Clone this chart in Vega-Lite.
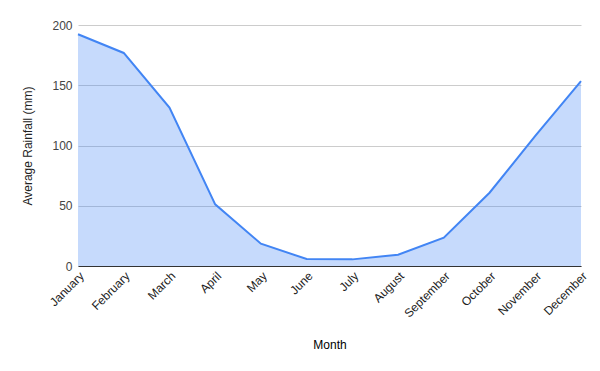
{
  "$schema": "https://vega.github.io/schema/vega-lite/v6.json",
  "width": 503,
  "height": 241,
  "autosize": {"type": "none"},
  "padding": {"left": 78, "top": 25, "right": 19, "bottom": 105},
  "background": "#ffffff",
  "config": {"view": {"stroke": null}, "font": "Liberation Sans"},
  "data": {"values": [
    {"Month": "January", "Rain": 192.3},
    {"Month": "February", "Rain": 176.8},
    {"Month": "March", "Rain": 131.4},
    {"Month": "April", "Rain": 51.2},
    {"Month": "May", "Rain": 18.5},
    {"Month": "June", "Rain": 5.8},
    {"Month": "July", "Rain": 5.5},
    {"Month": "August", "Rain": 9.4},
    {"Month": "September", "Rain": 23.5},
    {"Month": "October", "Rain": 60.8},
    {"Month": "November", "Rain": 108},
    {"Month": "December", "Rain": 153.5}
  ]},
  "mark": {"type": "area", "color": "#4285F4", "fillOpacity": 0.3, "line": {"color": "#4285F4", "strokeWidth": 2}},
  "encoding": {
    "x": {
      "field": "Month", "type": "ordinal", "sort": null,
      "scale": {"type": "point", "padding": 0},
      "axis": {
        "title": "Month", "labelAngle": -45, "labelAlign": "right", "labelBaseline": "top",
        "labelFontSize": 12, "labelColor": "#222222", "labelPadding": 4,
        "ticks": false, "domainColor": "#333333", "domainWidth": 1, "grid": false,
        "titleFontSize": 12, "titleFontWeight": "normal", "titleColor": "#000000",
        "titleY": 85, "titleBaseline": "bottom"
      }
    },
    "y": {
      "field": "Rain", "type": "quantitative",
      "scale": {"domain": [0, 200]},
      "axis": {
        "title": "Average Rainfall (mm)", "values": [0, 50, 100, 150, 200],
        "labelFontSize": 12, "labelColor": "#444444", "labelPadding": 6,
        "ticks": false, "domain": false, "gridColor": "#cccccc",
        "titleFontSize": 12, "titleFontWeight": "normal", "titleColor": "#222222",
        "titleX": -51, "titleBaseline": "middle"
      }
    }
  }
}
